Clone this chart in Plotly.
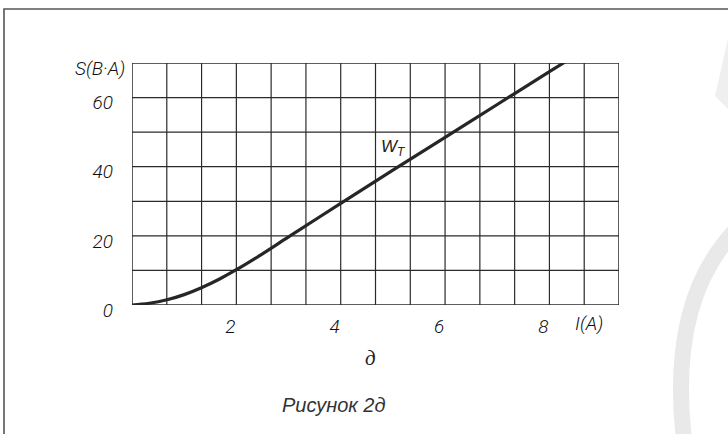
import plotly.graph_objects as go

# Current I (A) and apparent power S (B·A) for the W_T curve
current_a = [0, 0.33, 0.67, 1.0, 1.33, 1.67, 2.0, 2.5, 3.0, 4.0, 5.0, 6.0, 7.0, 8.0, 8.3]
power_va = [0, 0.5, 1.5, 3.0, 5.0, 7.45, 10.2, 14.8, 19.7, 29.4, 39.0, 48.5, 58.0, 67.5, 70.3]

x_tick_vals = [2, 4, 6, 8]
x_tick_text = ["2", "4", "6", "8"]
y_tick_vals = [0, 20, 40, 60]
y_tick_text = ["0", "20", "40", "60"]

curve_name = "W<sub>T</sub>"
x_title = "I(A)"
y_title = "S(B·A)"
panel_letter = "д"
caption = "Рисунок 2д"

X_MAX = 14 * 2 / 3   # fourteen grid cells of 2/3 A
Y_MAX = 70

W, H = 728, 434
ML, MR, MT, MB = 132, 109, 63, 129
PW, PH = W - ML - MR, H - MT - MB


def px(x):
    """page pixel x -> paper fraction"""
    return (x - ML) / PW


def py(y):
    """page pixel y (from top) -> paper fraction"""
    return (H - MB - y) / PH


ink = "#111111"
draw_font = dict(family="Roboto, Liberation Sans, sans-serif", size=19, color=ink,
                 style="italic", weight=300)

fig = go.Figure()

# grid cells: vertical every 2/3 A, horizontal every 10 B·A
shapes = []
k = 1
while k * 2 / 3 < X_MAX - 1e-6:
    xv = k * 2 / 3
    shapes.append(dict(type="line", xref="x", yref="y", x0=xv, x1=xv, y0=0, y1=Y_MAX,
                       line=dict(color="#2a2a2a", width=1.2), layer="below"))
    k += 1
for yv in range(10, Y_MAX, 10):
    shapes.append(dict(type="line", xref="x", yref="y", x0=0, x1=X_MAX, y0=yv, y1=yv,
                       line=dict(color="#2a2a2a", width=1.2), layer="below"))
shapes.append(dict(type="rect", xref="x", yref="y", x0=0, x1=X_MAX, y0=0, y1=Y_MAX,
                   line=dict(color="#2a2a2a", width=1.5), layer="below"))

# page frame (top and left edges)
shapes.append(dict(type="path", xref="paper", yref="paper",
                   path=f"M {px(W + 5)} {py(9)} L {px(4)} {py(9)} L {px(4)} {py(H + 5)}",
                   line=dict(color="#555555", width=1.6), layer="below"))
# faint emblem at the right edge
shapes.append(dict(type="path", xref="paper", yref="paper",
                   path=f"M {px(736)} {py(230)} Q {px(668)} {py(300)} {px(684)} {py(440)}",
                   line=dict(color="#e9e9e9", width=16), layer="below"))
shapes.append(dict(type="path", xref="paper", yref="paper",
                   path=f"M {px(729)} {py(34)} L {px(715)} {py(96)} L {px(729)} {py(110)} Z",
                   fillcolor="#efefef", line=dict(width=0), layer="below"))

fig.add_trace(go.Scatter(
    x=current_a, y=power_va, mode="lines",
    line=dict(color="#262626", width=3.2, shape="spline", smoothing=1.0),
    hoverinfo="skip", showlegend=False,
))

fig.update_layout(
    width=W, height=H,
    margin=dict(l=ML, r=MR, t=MT, b=MB),
    paper_bgcolor="white", plot_bgcolor="white",
    showlegend=False,
    shapes=shapes,
    xaxis=dict(range=[0, X_MAX], tickvals=x_tick_vals, ticktext=x_tick_text,
               showgrid=False, zeroline=False, showline=False, ticks="",
               tickfont=draw_font, ticklabelstandoff=8, ticklabelshift=-6),
    yaxis=dict(range=[0, Y_MAX], tickvals=y_tick_vals, ticktext=y_tick_text,
               showgrid=False, zeroline=False, showline=False, ticks="",
               tickfont=draw_font, ticklabelstandoff=18, ticklabelshift=5),
)

fig.layout.annotations = [
    dict(x=5.0, y=45.5, xref="x", yref="y", text=curve_name, showarrow=False,
         font=dict(family="Liberation Sans, sans-serif", size=17, color="#222222", style="italic")),
    dict(x=px(127), y=py(68), xref="paper", yref="paper", text=y_title, showarrow=False,
         xanchor="right", yanchor="middle", font=draw_font),
    dict(x=px(589), y=py(323), xref="paper", yref="paper", text=x_title, showarrow=False,
         xanchor="center", yanchor="middle", font=draw_font),
    dict(x=px(370), y=py(358), xref="paper", yref="paper", text=panel_letter, showarrow=False,
         xanchor="center", yanchor="middle",
         font=dict(family="Liberation Serif, serif", size=21, color="#222222", style="italic")),
    dict(x=px(334), y=py(405), xref="paper", yref="paper", text=caption, showarrow=False,
         xanchor="center", yanchor="middle",
         font=dict(family="Liberation Sans, Arial, sans-serif", size=20, color="#333333",
                   style="italic")),
]

fig.write_html("out.html")
